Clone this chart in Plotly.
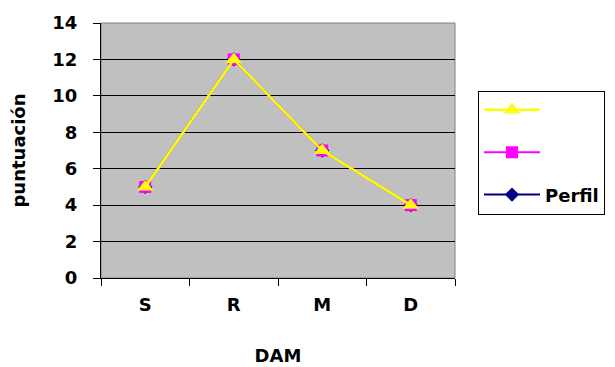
import plotly.graph_objects as go

categories = ["S", "R", "M", "D"]
perfil = [5, 12, 7, 4]
serie_magenta = [5, 12, 7, 4]
serie_amarilla = [5, 12, 7, 4]
y_ticks = [0, 2, 4, 6, 8, 10, 12, 14]

FONT = "DejaVu Sans, Liberation Sans, Arial, sans-serif"
BOLD = dict(family=FONT, size=18, color="black", weight="bold")

W, H = 615, 367
ML, MR, MT, MB = 101, 8, 23, 89
PLOT_RIGHT = 455
paper_w = W - ML - MR
x_dom_end = (PLOT_RIGHT - ML) / paper_w

fig = go.Figure()
fig.add_trace(go.Scatter(
    x=categories, y=perfil, name="Perfil", mode="lines+markers",
    line=dict(color="#000080", width=2),
    marker=dict(symbol="diamond", size=11, color="#000080"),
    legendgroup="c", legendrank=3))
fig.add_trace(go.Scatter(
    x=categories, y=serie_magenta, name=" ", mode="lines+markers",
    line=dict(color="#FF00FF", width=2),
    marker=dict(symbol="square", size=12, color="#FF00FF"),
    legendgroup="b", legendrank=2))
fig.add_trace(go.Scatter(
    x=categories, y=serie_amarilla, name="  ", mode="lines+markers",
    line=dict(color="#FFFF00", width=2.5),
    marker=dict(symbol="triangle-up", size=14, color="#FFFF00"),
    legendgroup="a", legendrank=1))

fig.update_layout(
    width=W, height=H,
    margin=dict(l=ML, r=MR, t=MT, b=MB),
    paper_bgcolor="white", plot_bgcolor="#C0C0C0",
    font=BOLD,
    showlegend=True,
    legend=dict(
        x=(478 - ML) / paper_w, y=0.735, xanchor="left", yanchor="top",
        bordercolor="black", borderwidth=1, bgcolor="white",
        itemwidth=56, tracegroupgap=16,
        font=BOLD,
    ),
    xaxis=dict(
        domain=[0, x_dom_end], automargin=False,
        type="category", range=[-0.5, 3.5], tickson="boundaries",
        ticks="outside", ticklen=7,
        tickcolor="black", showline=True, linecolor="black", linewidth=1,
        showgrid=False, tickfont=BOLD, ticklabelstandoff=10,
        title=dict(text="DAM", font=BOLD, standoff=35),
    ),
    yaxis=dict(
        automargin=False,
        range=[0, 14], tickvals=y_ticks, ticks="outside", ticklen=7,
        tickcolor="black", showline=True, linecolor="black", linewidth=1,
        showgrid=True, gridcolor="#000000", gridwidth=1, zeroline=False,
        tickfont=BOLD, ticklabelstandoff=12,
        title=dict(text="puntuación", font=BOLD, standoff=22),
    ),
    shapes=[dict(type="rect", xref="x domain", yref="y domain", x0=0, x1=1, y0=0, y1=1,
                 line=dict(color="#808080", width=1), layer="below")],
)

fig.write_html("out.html")
